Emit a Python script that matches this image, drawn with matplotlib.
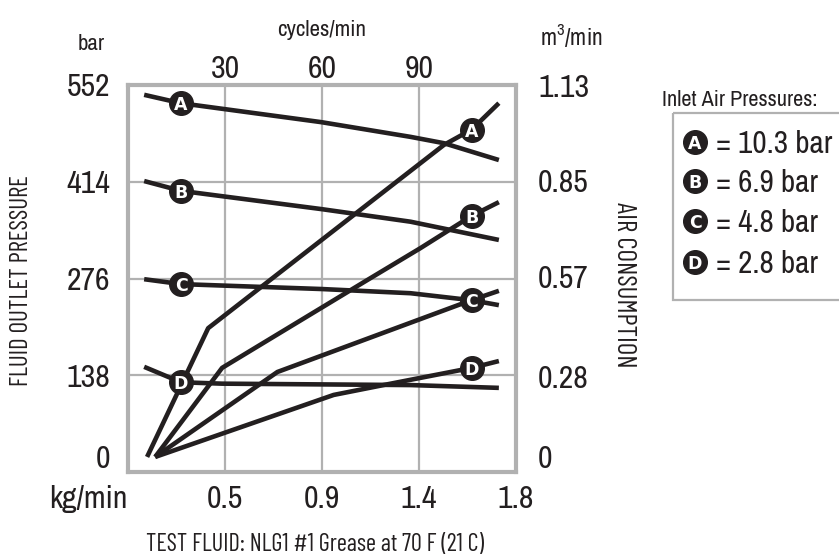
import matplotlib.pyplot as plt
from matplotlib.patches import Rectangle

plt.rcParams['font.family'] = ['Archivo Narrow', 'DejaVu Sans']
plt.rcParams['mathtext.fontset'] = 'custom'
plt.rcParams['mathtext.rm'] = 'Archivo Narrow'
plt.rcParams['mathtext.it'] = 'Archivo Narrow'
tall = ['Barlow Condensed', 'Archivo Narrow', 'DejaVu Sans']

ink = '#231f20'
gray = '#b1b1b1'

# x is pump speed in cycles/min for every curve
letters = ['A', 'B', 'C', 'D']
inlet_bar = ['10.3', '6.9', '4.8', '2.8']

# fluid outlet pressure, bar (left scale)
pres_A_x = [5, 16.4, 59.8, 87.4, 97.7, 114.7]
pres_A = [538, 526, 499, 478, 469, 445]
pres_B_x = [5, 16.4, 59.8, 87.4, 114.7]
pres_B = [415, 401, 375, 357, 331]
pres_C_x = [5, 16.4, 59.8, 87.4, 106.3, 114.7]
pres_C = [275, 268, 261, 255, 245, 238]
pres_D_x = [5, 16.4, 29.1, 87.4, 114.7]
pres_D = [150, 128, 126, 124, 120]

# air consumption, m3/min (right scale)
air_A_x = [5.9, 24.8, 97.7, 106.3, 114.7]
air_A = [0.044, 0.420, 0.955, 1.0, 1.077]
air_B_x = [8.4, 29.1, 74.1, 90.5, 106.3, 114.7]
air_B = [0.044, 0.304, 0.561, 0.654, 0.748, 0.788]
air_C_x = [8.4, 46.2, 106.3, 114.7]
air_C = [0.044, 0.292, 0.502, 0.529]
air_D_x = [8.4, 63.6, 79.1, 106.3, 114.7]
air_D = [0.044, 0.225, 0.254, 0.304, 0.324]

# where the letter badges sit on the curves
pres_mark_x = 16.4
pres_mark = [526, 401, 268, 128]
air_mark_x = 106.3
air_mark = [1.0, 0.748, 0.502, 0.304]

cycle_ticks = [30, 60, 90]
flow_ticks = [30, 60, 90, 120]
flow_labels = ['0.5', '0.9', '1.4', '1.8']
bar_ticks = [138, 276, 414, 552]
air_ticks = [0.28, 0.57, 0.85, 1.13]

W, H = 839, 556
fig = plt.figure(figsize=(W / 100, H / 100), dpi=100)
ax = fig.add_axes([128 / W, 1 - 472 / H, 388 / W, 387 / H])
ax.set_xlim(0, 120)
ax.set_ylim(0, 552)
axr = ax.twinx()
axr.set_ylim(0, 1.13)

big = 23

ax.set_xticks(flow_ticks, flow_labels)
ax.set_yticks(bar_ticks, [str(t) for t in bar_ticks])
ax.grid(True, color=gray, lw=1.6)
ax.tick_params(length=0, labelsize=big, labelcolor=ink)
ax.tick_params(axis='x', pad=9.5)
ax.tick_params(axis='y', pad=13)
for s in ax.spines.values():
    s.set_color(gray)
    s.set_linewidth(3)

axr.set_yticks(air_ticks, [f'{t:.2f}' for t in air_ticks])
axr.tick_params(length=0, labelsize=big, labelcolor=ink, pad=16)
for s in axr.spines.values():
    s.set_visible(False)

top = ax.secondary_xaxis('top')
top.set_xticks(cycle_ticks)
top.tick_params(length=0, labelsize=big, labelcolor=ink, pad=1.2)
top.spines['top'].set_visible(False)

# the zero labels sit a little above the bottom line
ax.annotate('0', xy=(0, 0), xycoords=('axes fraction', 'data'), xytext=(-18, 15),
            textcoords='offset pixels', ha='right', va='center_baseline',
            fontsize=big, color=ink)
axr.annotate('0', xy=(1, 0), xycoords=('axes fraction', 'data'), xytext=(22, 15),
             textcoords='offset pixels', ha='left', va='center_baseline',
             fontsize=big, color=ink)

kw = dict(color=ink, lw=3.3, solid_capstyle='butt', zorder=3)
for xs, ys in [(pres_A_x, pres_A), (pres_B_x, pres_B), (pres_C_x, pres_C), (pres_D_x, pres_D)]:
    axr.plot(xs, ys, transform=ax.transData, **kw)
for xs, ys in [(air_A_x, air_A), (air_B_x, air_B), (air_C_x, air_C), (air_D_x, air_D)]:
    axr.plot(xs, ys, **kw)


def badge(where, x, y, letter, trans):
    where.plot([x], [y], 'o', ms=17, color=ink, mec=ink, transform=trans, zorder=5)
    where.text(x, y, letter, color='white', fontsize=12.5, fontweight='bold',
               family='DejaVu Sans', ha='center', va='center_baseline',
               transform=trans, zorder=6)


for i, L in enumerate(letters):
    badge(axr, pres_mark_x, pres_mark[i], L, ax.transData)
    badge(axr, air_mark_x, air_mark[i], L, axr.transData)

# overlay in pixel coordinates for the free text and the key
ov = fig.add_axes([0, 0, 1, 1])
ov.set_xlim(0, W)
ov.set_ylim(H, 0)
ov.axis('off')

ov.text(91, 50, 'bar', fontsize=16.5, color=ink, ha='center', va='baseline')
ov.text(322, 36, 'cycles/min', fontsize=16.5, color=ink, ha='center', va='baseline')
ov.text(540, 45, 'm$^3$/min', fontsize=17, color=ink, ha='left', va='baseline')
ov.text(88, 508, 'kg/min', fontsize=big, color=ink, ha='center', va='baseline')
ov.text(22, 281, 'FLUID OUTLET PRESSURE', fontsize=18, family=tall, color=ink,
        rotation=90, ha='center', va='center')
ov.text(624, 285, 'AIR CONSUMPTION', fontsize=19.5, family=tall, color=ink,
        rotation=270, ha='center', va='center')
ov.text(315, 551, 'TEST FLUID: NLG1 #1 Grease at 70 F (21 C)', fontsize=17.5,
        family=tall, color=ink, ha='center', va='baseline')

ov.text(662, 106, 'Inlet Air Pressures:', fontsize=16, color=ink, ha='left', va='baseline')
ov.add_patch(Rectangle((673, 113), 200, 187, fill=False, ec=gray, lw=1.6, clip_on=False))
key_y = [142, 181, 221, 262]
for i, L in enumerate(letters):
    badge(ov, 695, key_y[i], L, ov.transData)
    ov.text(716, key_y[i] + 11, f'= {inlet_bar[i]} bar', fontsize=22.5, color=ink,
            ha='left', va='baseline')

fig.savefig('out.png', dpi=100)
